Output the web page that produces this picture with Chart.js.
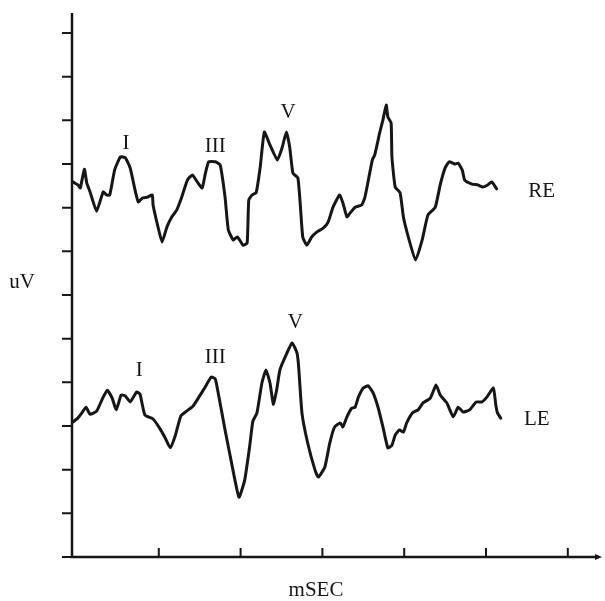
<!DOCTYPE html>
<html>
<head>
<meta charset="utf-8">
<script src="https://cdn.jsdelivr.net/npm/chart.js@4.4.1/dist/chart.umd.min.js"></script>
<style>
  html, body { margin: 0; padding: 0; background: #fff; }
  #wrap { width: 605px; height: 601px; }
</style>
</head>
<body>
<div id="wrap"><canvas id="abr"></canvas></div>
<script>
// time in ms-ticks, amplitude in uV-ticks
var reTime = [-0.05,0.01,0.04,0.09,0.12,0.16,0.24,0.32,0.36,0.40,0.46,0.53,0.59,0.65,0.71,0.75,0.80,0.86,0.92,0.93,0.99,1.04,1.10,1.16,1.22,1.28,1.35,1.41,1.47,1.53,1.57,1.61,1.69,1.75,1.81,1.85,1.91,1.96,2.03,2.08,2.10,2.14,2.19,2.24,2.29,2.36,2.45,2.51,2.56,2.60,2.64,2.70,2.73,2.76,2.81,2.87,2.93,3.01,3.07,3.13,3.21,3.25,3.30,3.34,3.40,3.48,3.52,3.61,3.64,3.70,3.74,3.78,3.80,3.84,3.85,3.89,3.95,3.99,4.05,4.14,4.22,4.29,4.38,4.44,4.50,4.55,4.62,4.66,4.71,4.74,4.83,4.90,4.96,5.02,5.07,5.13];
var reAmp  = [8.59,8.52,8.45,8.88,8.56,8.36,7.92,8.36,8.29,8.29,8.86,9.16,9.14,8.91,8.40,8.13,8.22,8.24,8.29,8.06,7.56,7.21,7.56,7.79,7.95,8.24,8.63,8.75,8.59,8.45,8.79,9.05,9.05,8.98,8.24,7.49,7.26,7.33,7.14,7.19,8.18,8.29,8.34,8.93,9.73,9.43,9.09,9.39,9.73,9.39,8.79,8.68,8.06,7.33,7.14,7.33,7.44,7.53,7.67,8.01,8.29,8.11,7.79,7.88,8.01,8.06,8.24,9.09,9.21,9.71,10.01,10.35,10.08,9.94,9.16,8.47,8.34,7.79,7.33,6.80,7.26,7.83,8.01,8.52,8.91,9.05,9.00,9.02,8.86,8.63,8.54,8.52,8.47,8.52,8.59,8.43];

var leTime = [-0.05,0.01,0.06,0.11,0.16,0.24,0.31,0.37,0.43,0.48,0.54,0.59,0.65,0.73,0.77,0.83,0.93,1.01,1.08,1.14,1.20,1.27,1.34,1.42,1.49,1.56,1.64,1.69,1.72,1.81,1.89,1.98,2.05,2.11,2.15,2.20,2.26,2.31,2.36,2.40,2.44,2.48,2.54,2.63,2.69,2.71,2.75,2.82,2.91,2.95,3.03,3.09,3.15,3.22,3.25,3.30,3.36,3.40,3.44,3.50,3.56,3.62,3.68,3.74,3.80,3.85,3.89,3.94,3.99,4.03,4.10,4.17,4.23,4.32,4.39,4.44,4.52,4.60,4.66,4.72,4.80,4.88,4.95,5.01,5.09,5.12,5.14,5.18];
var leAmp  = [3.09,3.18,3.30,3.43,3.27,3.34,3.62,3.82,3.64,3.37,3.71,3.69,3.55,3.78,3.73,3.25,3.16,2.95,2.72,2.50,2.77,3.23,3.34,3.46,3.66,3.87,4.12,4.08,3.82,2.91,2.15,1.37,1.76,2.52,3.11,3.30,3.98,4.28,3.98,3.50,3.82,4.28,4.56,4.90,4.67,4.35,3.30,2.61,1.99,1.83,2.06,2.61,2.98,3.07,2.98,3.21,3.41,3.43,3.66,3.87,3.92,3.76,3.43,2.98,2.50,2.56,2.79,2.91,2.86,3.07,3.30,3.37,3.53,3.64,3.94,3.71,3.53,3.21,3.43,3.32,3.37,3.55,3.55,3.66,3.87,3.48,3.30,3.18];

var xTicks = [1, 2, 3, 4, 5, 6];
var yTicks = [0, 1, 2, 3, 4, 5, 6, 7, 8, 9, 10, 11, 12];

// wave labels: text, time, amplitude
var waveLabels = [
    ['I', 0.60, 9.48], ['III', 1.69, 9.39], ['V', 2.58, 10.19], ['RE', 5.68, 8.38],
    ['I', 0.76, 4.26], ['III', 1.69, 4.58], ['V', 2.67, 5.38], ['LE', 5.62, 3.14]
];

function toPoints(t, a) {
    return t.map(function (v, i) { return { x: v, y: a[i] }; });
}

var ink = '#161616';

var axesPlugin = {
    id: 'axes',
    afterDatasetsDraw: function (chart) {
        var ctx = chart.ctx, a = chart.chartArea;
        var xs = chart.scales.x, ys = chart.scales.y;
        ctx.save();
        ctx.strokeStyle = ink;
        ctx.lineWidth = 2.5;
        ctx.lineCap = 'butt';
        ctx.beginPath();
        ctx.moveTo(a.left, a.top);
        ctx.lineTo(a.left, a.bottom);
        ctx.lineTo(a.right - 3, a.bottom);
        ctx.stroke();
        // small arrow head at the end of the time axis
        ctx.fillStyle = ink;
        ctx.beginPath();
        ctx.moveTo(a.right, a.bottom);
        ctx.lineTo(a.right - 7, a.bottom - 3);
        ctx.lineTo(a.right - 7, a.bottom + 3);
        ctx.closePath();
        ctx.fill();

        ctx.lineWidth = 2;
        ctx.beginPath();
        yTicks.forEach(function (v) {
            var py = ys.getPixelForValue(v);
            ctx.moveTo(a.left - 10, py);
            ctx.lineTo(a.left, py);
        });
        xTicks.forEach(function (t) {
            var px = xs.getPixelForValue(t);
            ctx.moveTo(px, a.bottom);
            ctx.lineTo(px, a.bottom - 9);
        });
        ctx.stroke();

        ctx.font = '21px "Liberation Serif", "DejaVu Serif", serif';
        ctx.textAlign = 'center';
        ctx.textBaseline = 'middle';
        waveLabels.forEach(function (l) {
            ctx.fillText(l[0], xs.getPixelForValue(l[1]), ys.getPixelForValue(l[2]));
        });
        ctx.fillText('uV', 22, 282);
        ctx.fillText('mSEC', 316, 590);
        ctx.restore();
    }
};

var crt = document.getElementById('abr').getContext('2d');
new Chart(crt, {
    type: 'scatter',
    data: {
        datasets: [
            { label: 'RE', data: toPoints(reTime, reAmp) },
            { label: 'LE', data: toPoints(leTime, leAmp) }
        ]
    },
    options: {
        responsive: true,
        maintainAspectRatio: false,
        animation: false,
        showLine: true,
        clip: false,
        layout: { padding: { left: 72, top: 13, right: 3, bottom: 44 } },
        elements: {
            point: { radius: 0 },
            line: { borderColor: ink, borderWidth: 3, tension: 0.15, borderJoinStyle: 'round', borderCapStyle: 'round' }
        },
        scales: {
            x: { type: 'linear', display: false, min: -0.061, max: 6.418 },
            y: { type: 'linear', display: false, min: 0, max: 12.457 }
        },
        plugins: {
            legend: { display: false },
            tooltip: { enabled: false }
        }
    },
    plugins: [axesPlugin]
});
</script>
</body>
</html>
